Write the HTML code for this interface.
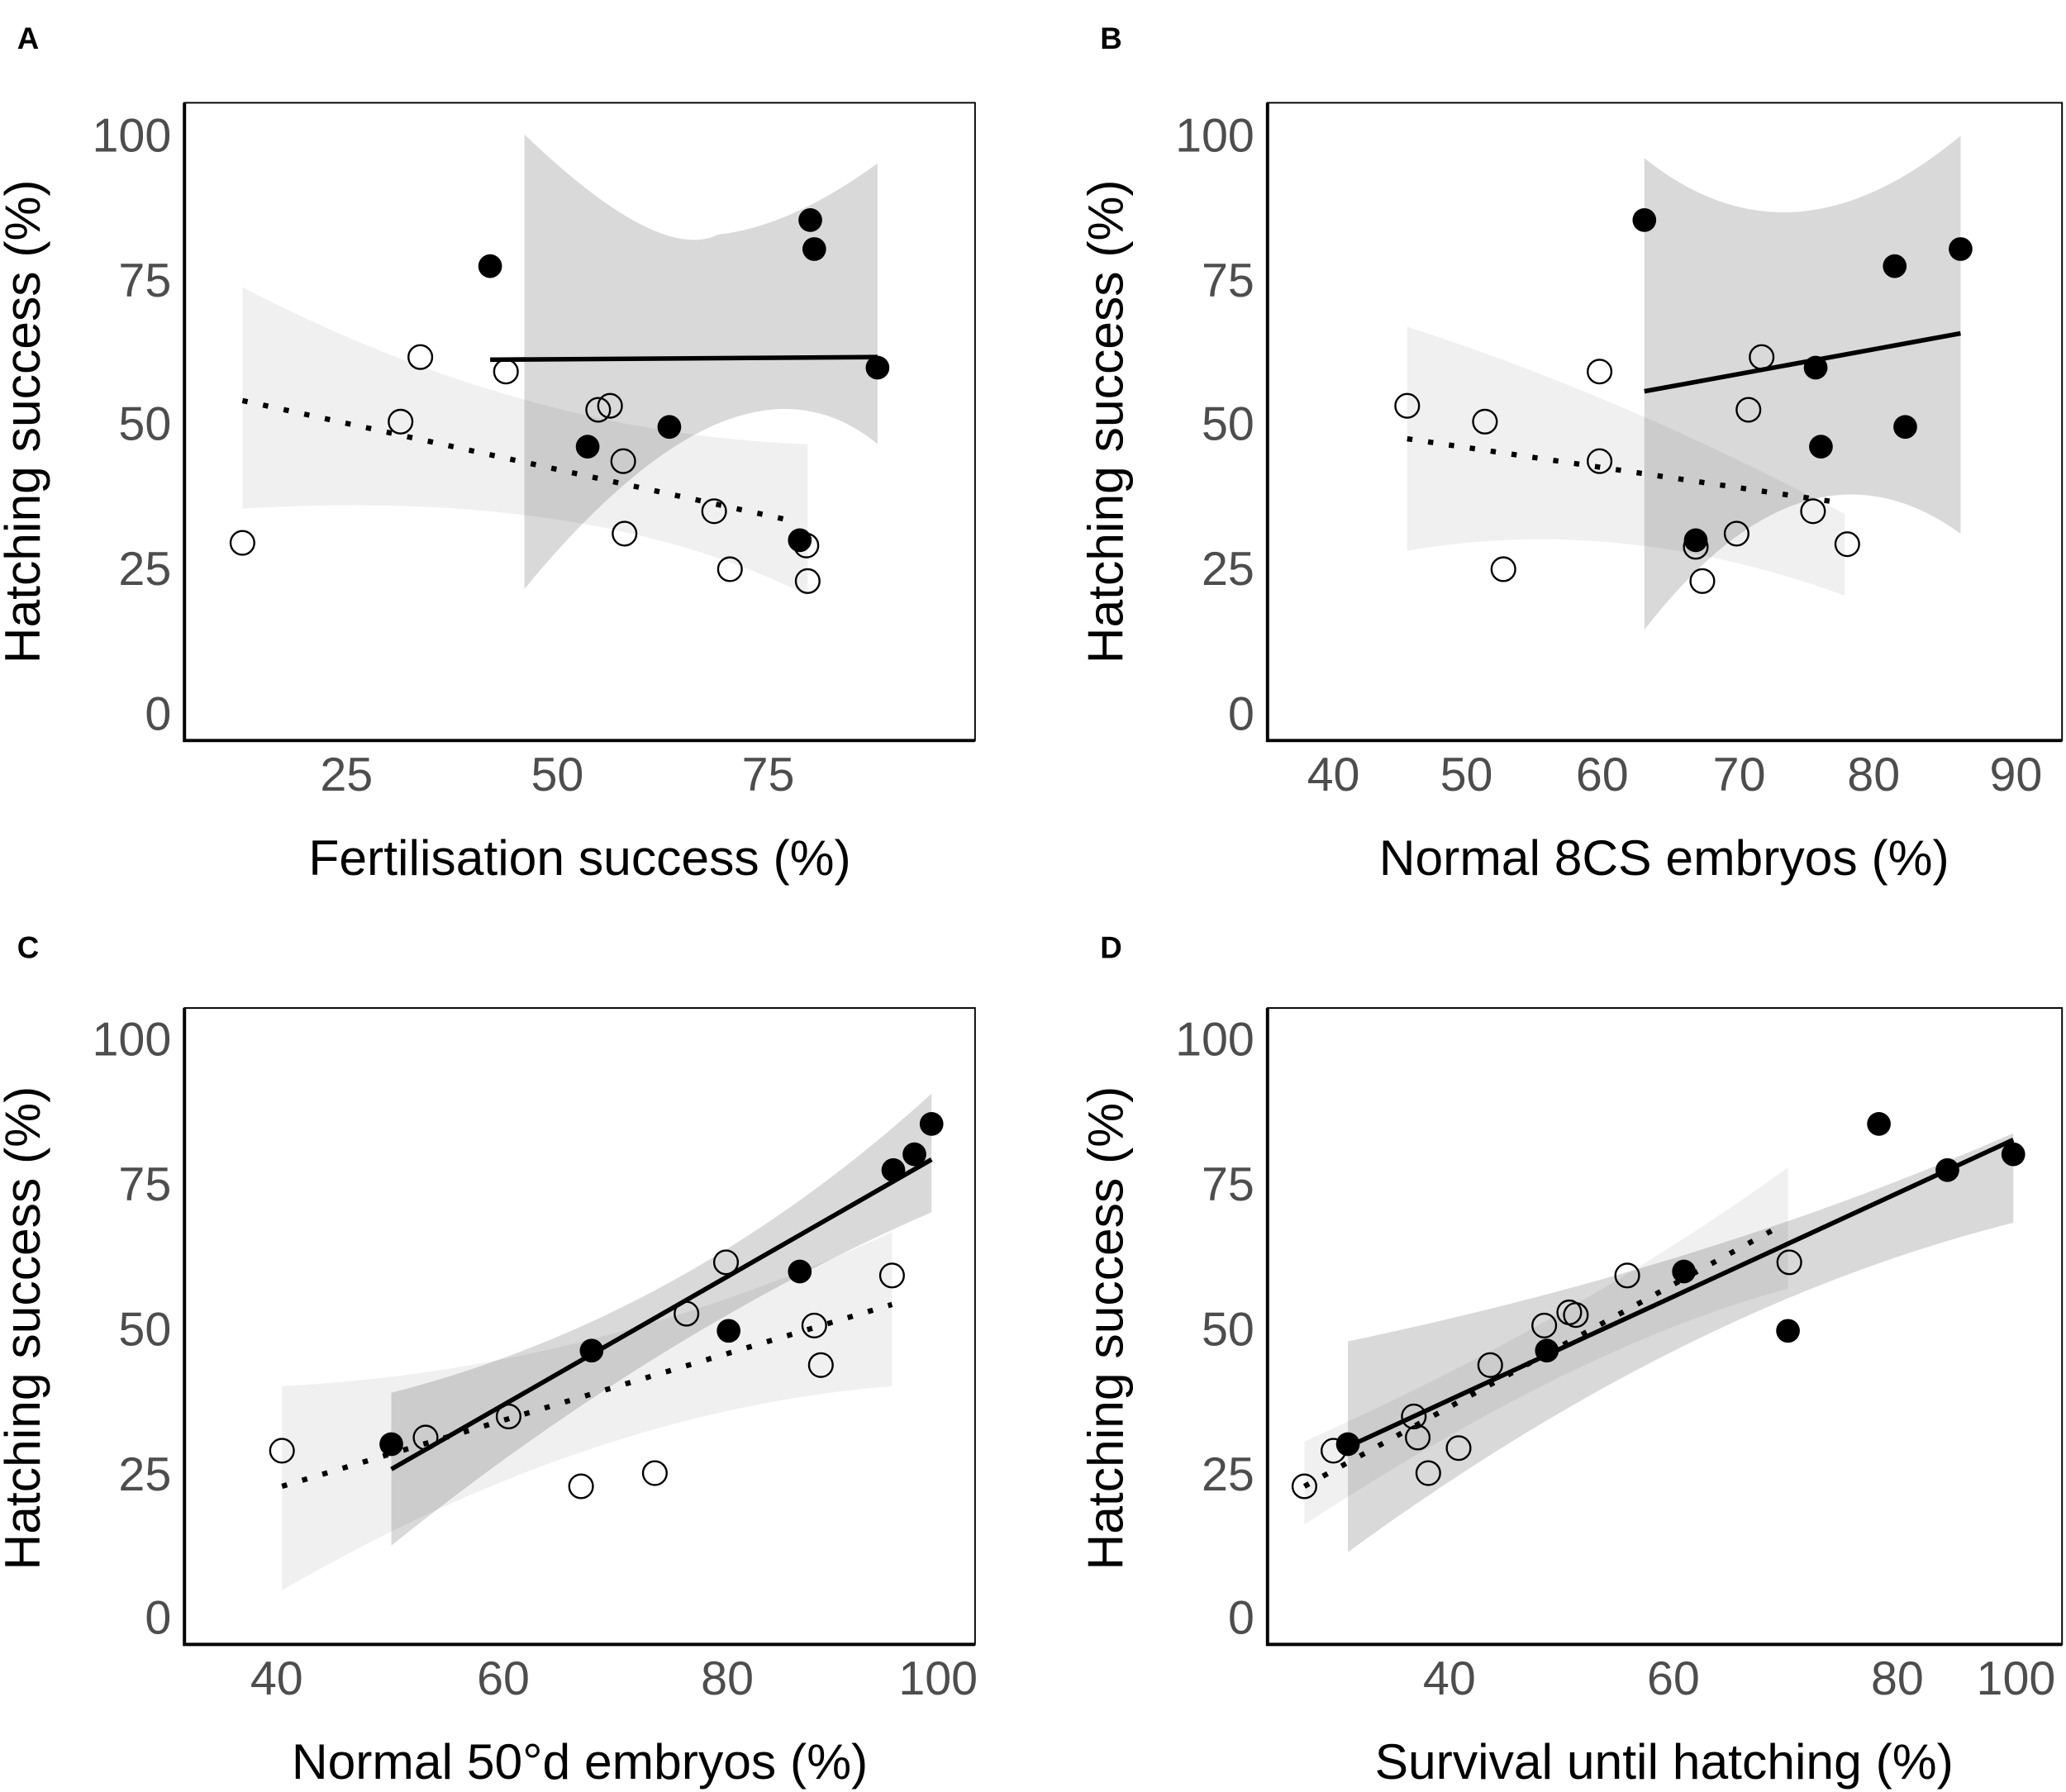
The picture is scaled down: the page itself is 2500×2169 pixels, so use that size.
<!DOCTYPE html>
<html><head><meta charset="utf-8"><style>
html,body{margin:0;padding:0;background:#fff;}
svg{display:block;}
text{font-family:"Liberation Sans",sans-serif;}
.ty{font-size:36px;fill:#4d4d4d;text-anchor:end;}
.tx{font-size:36px;fill:#4d4d4d;text-anchor:middle;}
.ti{font-size:38px;fill:#000;text-anchor:middle;}
.pl{font-size:23px;font-weight:bold;fill:#000;}
.o{fill:none;stroke:#000;stroke-width:1.5;}
.f{fill:#000;}
.dk{fill:#000;fill-opacity:0.15;}
.lt{fill:#000;fill-opacity:0.06;}
.sl{stroke:#000;stroke-width:3.5;fill:none;}
.dl{stroke:#000;stroke-width:4;stroke-dasharray:4,12;fill:none;}
.box{fill:none;stroke:#000;stroke-width:1.2;}
.ax{stroke:#000;stroke-width:2.5;fill:none;}
</style></head><body>
<svg width="2500" height="2169" viewBox="0 0 1568 1360" preserveAspectRatio="none">
<rect width="1568" height="1360" fill="#fff"/>
<!-- Panel A -->
<text class="pl" x="13" y="37">A</text>
<path class="lt" d="M184,218 Q400,330 613,337 L613,452 Q450,370 184,386 Z"/>
<path class="dk" d="M398,102 Q500,200 545,178 Q600,172 666,124 L666,337 Q560,250 398,447 Z"/>
<line class="sl" x1="372" y1="273" x2="666" y2="271"/>
<line class="dl" x1="184" y1="304" x2="600" y2="395"/>
<g class="o"><circle cx="184" cy="412" r="9"/><circle cx="319" cy="271" r="9"/><circle cx="384" cy="282" r="9"/><circle cx="304" cy="320" r="9"/><circle cx="454" cy="311" r="9"/><circle cx="463" cy="308" r="9"/><circle cx="473" cy="350" r="9"/><circle cx="474" cy="405" r="9"/><circle cx="542" cy="388" r="9"/><circle cx="554" cy="432" r="9"/><circle cx="612" cy="414" r="9"/><circle cx="613" cy="441" r="9"/></g>
<g class="f"><circle cx="372" cy="202" r="9"/><circle cx="615" cy="167" r="9"/><circle cx="618" cy="189" r="9"/><circle cx="666" cy="279" r="9"/><circle cx="508" cy="324" r="9"/><circle cx="446" cy="339" r="9"/><circle cx="607" cy="410" r="9"/></g>
<rect class="box" x="140" y="78" width="600" height="484"/>
<path class="ax" d="M140,78 V562 H740"/>
<text class="ty" x="130" y="115">100</text><text class="ty" x="130" y="225">75</text><text class="ty" x="130" y="334">50</text><text class="ty" x="130" y="444">25</text><text class="ty" x="130" y="554">0</text>
<text class="tx" x="263" y="600">25</text><text class="tx" x="423" y="600">50</text><text class="tx" x="583" y="600">75</text>
<text class="ti" x="440" y="664">Fertilisation success (%)</text>
<text class="ti" transform="translate(30,320) rotate(-90)">Hatching success (%)</text>
<!-- Panel B -->
<text class="pl" x="835" y="37">B</text>
<path class="lt" d="M1068,248 Q1230,300 1400,390 L1400,452 Q1230,390 1068,418 Z"/>
<path class="dk" d="M1248,120 Q1360,210 1488,103 L1488,405 Q1370,320 1248,478 Z"/>
<line class="sl" x1="1248" y1="297" x2="1488" y2="253"/>
<line class="dl" x1="1068" y1="333" x2="1400" y2="382"/>
<g class="o"><circle cx="1068" cy="308" r="9"/><circle cx="1127" cy="320" r="9"/><circle cx="1141" cy="432" r="9"/><circle cx="1214" cy="282" r="9"/><circle cx="1214" cy="350" r="9"/><circle cx="1337" cy="271" r="9"/><circle cx="1327" cy="311" r="9"/><circle cx="1318" cy="405" r="9"/><circle cx="1376" cy="388" r="9"/><circle cx="1402" cy="413" r="9"/><circle cx="1287" cy="415" r="9"/><circle cx="1292" cy="441" r="9"/></g>
<g class="f"><circle cx="1248" cy="167" r="9"/><circle cx="1488" cy="189" r="9"/><circle cx="1438" cy="202" r="9"/><circle cx="1378" cy="279" r="9"/><circle cx="1446" cy="324" r="9"/><circle cx="1382" cy="339" r="9"/><circle cx="1287" cy="410" r="9"/></g>
<rect class="box" x="962" y="78" width="603" height="484"/>
<path class="ax" d="M962,78 V562 H1565"/>
<text class="ty" x="952" y="115">100</text><text class="ty" x="952" y="225">75</text><text class="ty" x="952" y="334">50</text><text class="ty" x="952" y="444">25</text><text class="ty" x="952" y="554">0</text>
<text class="tx" x="1012" y="600">40</text><text class="tx" x="1113" y="600">50</text><text class="tx" x="1216" y="600">60</text><text class="tx" x="1320" y="600">70</text><text class="tx" x="1422" y="600">80</text><text class="tx" x="1530" y="600">90</text>
<text class="ti" x="1263" y="664">Normal 8CS embryos (%)</text>
<text class="ti" transform="translate(852,320) rotate(-90)">Hatching success (%)</text>
<!-- Panel C -->
<text class="pl" x="13" y="727">C</text>
<path class="lt" d="M214,1052 Q450,1040 677,935 L677,1052 Q450,1070 214,1207 Z"/>
<path class="dk" d="M297,1057 Q520,1000 707,830 L707,920 Q500,1010 297,1173 Z"/>
<line class="sl" x1="297" y1="1115" x2="707" y2="880"/>
<line class="dl" x1="214" y1="1128" x2="677" y2="990"/>
<g class="o"><circle cx="214" cy="1101" r="9"/><circle cx="323" cy="1091" r="9"/><circle cx="386" cy="1075" r="9"/><circle cx="441" cy="1128" r="9"/><circle cx="497" cy="1118" r="9"/><circle cx="521" cy="997" r="9"/><circle cx="551" cy="958" r="9"/><circle cx="618" cy="1006" r="9"/><circle cx="623" cy="1036" r="9"/><circle cx="677" cy="968" r="9"/></g>
<g class="f"><circle cx="297" cy="1096" r="9"/><circle cx="449" cy="1025" r="9"/><circle cx="553" cy="1010" r="9"/><circle cx="607" cy="965" r="9"/><circle cx="678" cy="888" r="9"/><circle cx="694" cy="876" r="9"/><circle cx="707" cy="853" r="9"/></g>
<rect class="box" x="140" y="765" width="600" height="483"/>
<path class="ax" d="M140,765 V1248 H740"/>
<text class="ty" x="130" y="801">100</text><text class="ty" x="130" y="911">75</text><text class="ty" x="130" y="1021">50</text><text class="ty" x="130" y="1131">25</text><text class="ty" x="130" y="1240">0</text>
<text class="tx" x="210" y="1286">40</text><text class="tx" x="382" y="1286">60</text><text class="tx" x="552" y="1286">80</text><text class="tx" x="712" y="1286">100</text>
<text class="ti" x="440" y="1350">Normal 50°d embryos (%)</text>
<text class="ti" transform="translate(30,1008) rotate(-90)">Hatching success (%)</text>
<!-- Panel D -->
<text class="pl" x="835" y="727">D</text>
<path class="lt" d="M990,1094 Q1200,1000 1357,886 L1357,978 Q1200,1020 990,1157 Z"/>
<path class="dk" d="M1023,1018 Q1300,960 1528,860 L1528,928 Q1280,990 1023,1178 Z"/>
<line class="sl" x1="1023" y1="1098" x2="1528" y2="865"/>
<line class="dl" x1="990" y1="1128" x2="1352" y2="930"/>
<g class="o"><circle cx="990" cy="1128" r="9"/><circle cx="1012" cy="1101" r="9"/><circle cx="1073" cy="1075" r="9"/><circle cx="1076" cy="1091" r="9"/><circle cx="1084" cy="1118" r="9"/><circle cx="1107" cy="1099" r="9"/><circle cx="1131" cy="1036" r="9"/><circle cx="1172" cy="1006" r="9"/><circle cx="1191" cy="996" r="9"/><circle cx="1196" cy="998" r="9"/><circle cx="1235" cy="968" r="9"/><circle cx="1358" cy="958" r="9"/></g>
<g class="f"><circle cx="1023" cy="1096" r="9"/><circle cx="1174" cy="1025" r="9"/><circle cx="1278" cy="965" r="9"/><circle cx="1357" cy="1010" r="9"/><circle cx="1426" cy="853" r="9"/><circle cx="1478" cy="888" r="9"/><circle cx="1528" cy="876" r="9"/></g>
<rect class="box" x="962" y="765" width="603" height="483"/>
<path class="ax" d="M962,765 V1248 H1565"/>
<text class="ty" x="952" y="801">100</text><text class="ty" x="952" y="911">75</text><text class="ty" x="952" y="1021">50</text><text class="ty" x="952" y="1131">25</text><text class="ty" x="952" y="1240">0</text>
<text class="tx" x="1100" y="1286">40</text><text class="tx" x="1270" y="1286">60</text><text class="tx" x="1440" y="1286">80</text><text class="tx" x="1530" y="1286">100</text>
<text class="ti" x="1263" y="1350">Survival until hatching (%)</text>
<text class="ti" transform="translate(852,1008) rotate(-90)">Hatching success (%)</text>
</svg>
</body></html>
